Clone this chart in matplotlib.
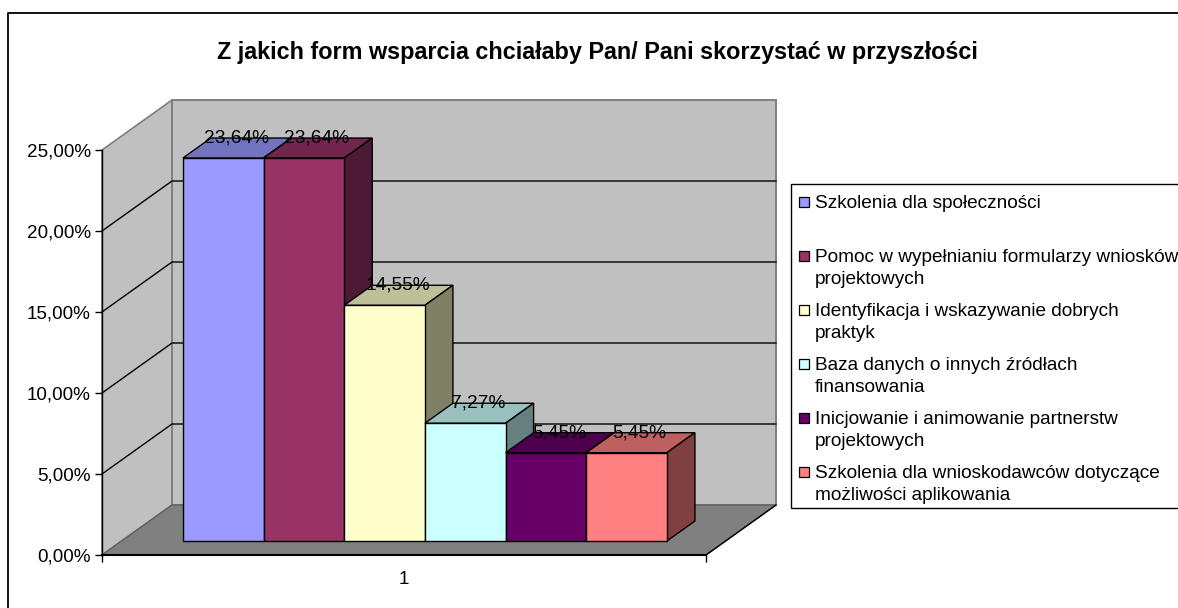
import matplotlib
matplotlib.use('Agg')
import matplotlib.pyplot as plt
from matplotlib.patches import Polygon, Rectangle

plt.rcParams['font.family'] = ['Liberation Sans', 'DejaVu Sans']

title = 'Z jakich form wsparcia chciałaby Pan/ Pani skorzystać w przyszłości'
names = ['Szkolenia dla społeczności',
         'Pomoc w wypełnianiu formularzy wniosków\nprojektowych',
         'Identyfikacja i wskazywanie dobrych\npraktyk',
         'Baza danych o innych źródłach\nfinansowania',
         'Inicjowanie i animowanie partnerstw\nprojektowych',
         'Szkolenia dla wnioskodawców dotyczące\nmożliwości aplikowania']
values = [23.64, 23.64, 14.55, 7.27, 5.45, 5.45]
labels = ['23,64%', '23,64%', '14,55%', '7,27%', '5,45%', '5,45%']
colors = ['#9999FF', '#993366', '#FFFFCC', '#CCFFFF', '#660066', '#FF8080']
yticks = [0, 5, 10, 15, 20, 25]
yticklabels = ['0,00%', '5,00%', '10,00%', '15,00%', '20,00%', '25,00%']

W, H = 1178, 608
fig = plt.figure(figsize=(W / 100, H / 100), dpi=100)

# pixel layer for the frame and legend
bg = fig.add_axes([0, 0, 1, 1], zorder=0)
bg.set_xlim(0, W)
bg.set_ylim(H, 0)
bg.axis('off')
bg.plot([8, 8, W], [H, 13, 13], color='black', lw=1.3)
bg.text(597, 52, title, ha='center', va='center', fontsize=16.8, fontweight='bold')

bg.add_patch(Rectangle((791, 184), 420, 324, fc='white', ec='black', lw=1))
for i, (name, c) in enumerate(zip(names, colors)):
    ytop = 202 + 54 * i
    bg.add_patch(Rectangle((799, ytop - 5.5), 10, 10, fc=c, ec='black', lw=0.9))
    bg.text(815, ytop - 6.5, name, ha='left', va='top', fontsize=13.72, linespacing=1.37)

# front plane of the plot box
x0, x1, y0, y1 = 102, 706, 555, 150
ax = fig.add_axes([x0 / W, 1 - y0 / H, (x1 - x0) / W, (y0 - y1) / H], zorder=1)
ax.set_xlim(0, 1)
ax.set_ylim(0, 25)
ax.patch.set_alpha(0)

# oblique depth: full box depth in data units
depth_x = 70 / (x1 - x0)
depth_y = 50 / ((y0 - y1) / 25)


def proj(x, y, d):
    return (x + depth_x * d, y + depth_y * d)


def face(pts, fc, ec='black', lw=1.0, z=2):
    ax.add_patch(Polygon(pts, closed=True, fc=fc, ec=ec, lw=lw, zorder=z, clip_on=False,
                         joinstyle='miter'))


# walls and floor
face([proj(0, 0, 0), proj(0, 25, 0), proj(0, 25, 1), proj(0, 0, 1)], '#C0C0C0', '#808080', 1.2, 1)
face([proj(0, 0, 1), proj(0, 25, 1), proj(1, 25, 1), proj(1, 0, 1)], '#C0C0C0', '#808080', 1.4, 1)
face([proj(0, 0, 0), proj(0, 0, 1), proj(1, 0, 1), proj(1, 0, 0)], '#808080', '#606060', 1.0, 1)
ax.plot(*zip(proj(1, 0, 0), proj(1, 0, 1)), color='black', lw=1, zorder=1.5, clip_on=False)
for t in yticks[1:-1]:
    ax.plot(*zip(proj(0, t, 0), proj(0, t, 1), proj(1, t, 1)), color='black', lw=1,
            zorder=1.5, clip_on=False)

# bars
bar_w = 80.67 / (x1 - x0)
start = 0.1015
d0, d1 = 0.28, 0.68
for i, (v, c) in enumerate(zip(values, colors)):
    l = start + i * bar_w
    r = l + bar_w
    rgb = matplotlib.colors.to_rgb(c)
    top_c = tuple(k * 0.75 for k in rgb)
    side_c = tuple(k * 0.5 for k in rgb)
    z = 2 + i * 0.1
    face([proj(l, v, d0), proj(l, v, d1), proj(r, v, d1), proj(r, v, d0)], top_c, z=z)
    face([proj(r, 0, d0), proj(r, v, d0), proj(r, v, d1), proj(r, 0, d1)], side_c, z=z)
    face([proj(l, 0, d0), proj(l, v, d0), proj(r, v, d0), proj(r, 0, d0)], c, z=z + 0.01)

for i, (v, s) in enumerate(zip(values, labels)):
    px, py = proj(start + (i + 0.5) * bar_w, v, d1)
    ax.text(px - 15 / (x1 - x0), py, s, ha='center', va='center', fontsize=13.8, zorder=5,
            clip_on=False)

# axes
for s in ['top', 'right']:
    ax.spines[s].set_visible(False)
ax.spines['bottom'].set_linewidth(1.5)
ax.spines['left'].set_linewidth(1.0)
ax.spines['bottom'].set_zorder(3)
ax.set_yticks(yticks)
ax.set_yticklabels(yticklabels, fontsize=13.6)
ax.set_xticks([0, 1])
ax.set_xticklabels([])
ax.tick_params(axis='both', length=5, width=1, pad=3)
ax.text(0.5, -25 / (y0 - y1) * 25, '1', ha='center', va='center', fontsize=13.6)

fig.savefig('out.png', dpi=100)
